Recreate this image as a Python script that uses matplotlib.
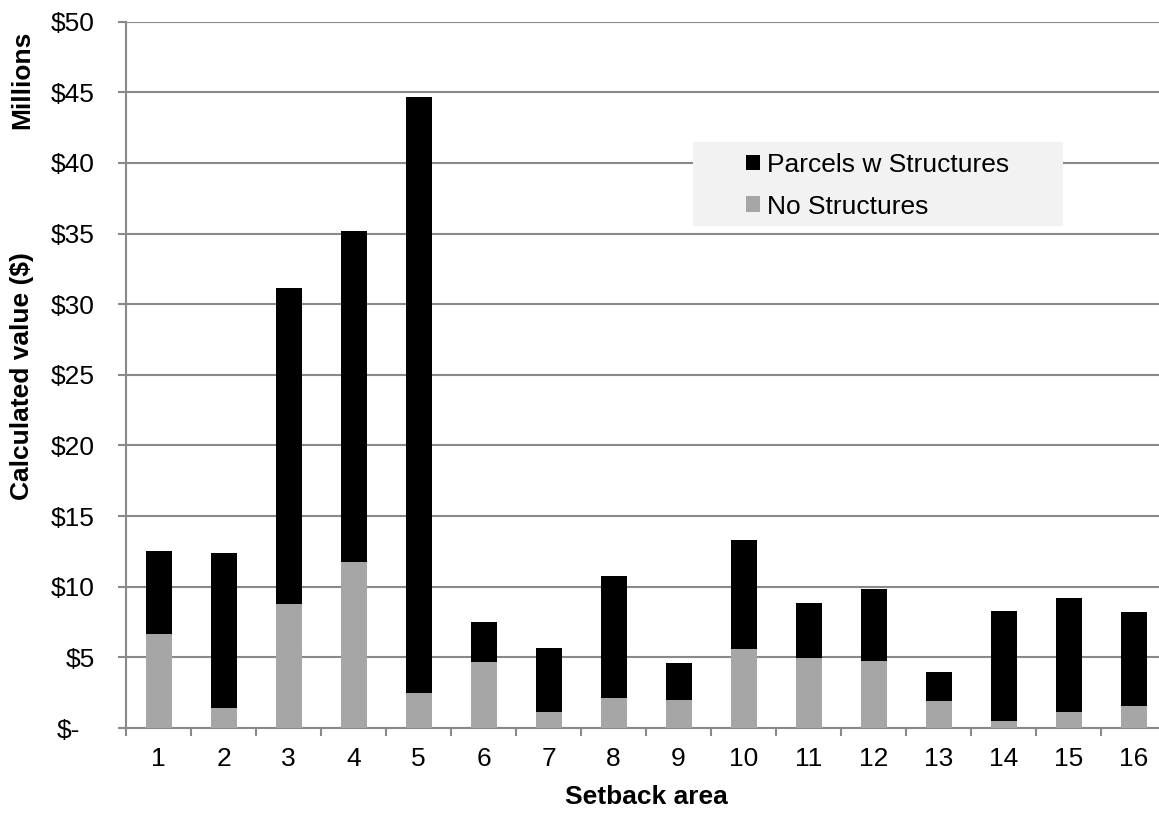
import numpy as np
import matplotlib.pyplot as plt
from matplotlib.patches import Rectangle
from matplotlib.transforms import ScaledTranslation

plt.rcParams['font.family'] = ['Liberation Sans', 'DejaVu Sans']

# Setback areas and values (millions of $)
areas = [str(i) for i in range(1, 17)]
no_structures = [6.66, 1.39, 8.78, 11.73, 2.48, 4.65, 1.11, 2.12, 1.98, 5.57, 4.96, 4.77, 1.89, 0.50, 1.11, 1.56]
totals = [12.51, 12.42, 31.14, 35.20, 44.67, 7.53, 5.64, 10.79, 4.60, 13.34, 8.88, 9.82, 3.94, 8.31, 9.23, 8.24]
with_structures = [t - n for t, n in zip(totals, no_structures)]

y_ticks = [0, 5, 10, 15, 20, 25, 30, 35, 40, 45, 50]
y_labels = ['$-'] + ['$%d' % v for v in y_ticks[1:]]

W, H = 1159, 813
PX = 72 / 100  # points per pixel
fig = plt.figure(figsize=(W / 100, H / 100), dpi=100)
ax = fig.add_axes([126 / W, (H - 728) / H, 1040 / W, 706.3 / H])

x = np.arange(1, len(areas) + 1)
grid_col = '#898989'
ax.bar(x, no_structures, width=0.4, color='#a6a6a6', label='No Structures', zorder=3)
ax.bar(x, with_structures, width=0.4, bottom=no_structures, color='black',
       label='Parcels w Structures', zorder=3)

fs = 19
ax.set_xlim(0.5, 16.5)
ax.set_ylim(0, 50)
ax.set_yticks(y_ticks)
ax.set_yticklabels(y_labels, fontsize=fs)
ax.yaxis.grid(True, color=grid_col, linewidth=1.5, zorder=0)
ax.set_axisbelow(True)

ax.set_xticks(np.arange(0.5, 17, 1))
ax.set_xticklabels([])
ax.set_xticks(x, minor=True)
ax.set_xticklabels(areas, minor=True, fontsize=fs)
ax.tick_params(axis='x', which='major', length=8 * PX, width=1.5, color=grid_col, direction='out')
ax.tick_params(axis='x', which='minor', length=0, pad=19 * PX)
ax.tick_params(axis='y', length=8 * PX, width=1.5, color=grid_col, direction='out', pad=23 * PX)

for s in ['top', 'right']:
    ax.spines[s].set_visible(False)
for s in ['left', 'bottom']:
    ax.spines[s].set_color(grid_col)
    ax.spines[s].set_linewidth(1.5)

# shift "$-" like Excel accounting format
lbl0 = ax.get_yticklabels()[0]
lbl0.set_transform(lbl0.get_transform() + ScaledTranslation(-15 / 100, 0, fig.dpi_scale_trans))

fig.text(646 / W, 1 - 797 / H, 'Setback area', fontsize=fs, fontweight='bold', ha='center', va='center')
fig.text(22 / W, 1 - 376 / H, 'Calculated value ($)', fontsize=fs, fontweight='bold',
         rotation=90, ha='center', va='center')
fig.text(22 / W, 1 - 80 / H, 'Millions', fontsize=fs, fontweight='bold',
         rotation=90, ha='center', va='center')

# legend background
fig.patches.append(Rectangle((693 / W, 1 - 226 / H), 370 / W, 84 / H,
                             transform=fig.transFigure, facecolor='#f2f2f2',
                             edgecolor='none', zorder=1))
handles, labels = ax.get_legend_handles_labels()
leg = fig.legend(handles[::-1], labels[::-1], loc='upper left',
                 bbox_to_anchor=(746 / W, 1 - 153 / H), frameon=False, fontsize=fs,
                 borderpad=0, borderaxespad=0, handlelength=0.53, handleheight=0.53,
                 handletextpad=0.27, labelspacing=0.665)
leg.set_zorder(2)

fig.savefig('out.png', dpi=100)
